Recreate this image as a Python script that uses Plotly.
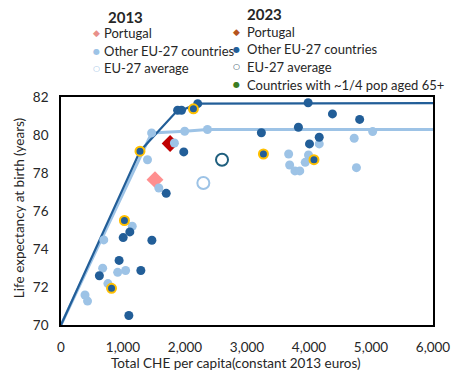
import plotly.graph_objects as go

# --- Data -------------------------------------------------------------------
# 2013: other EU-27 countries (CHE per capita, life expectancy)
other13_x = [1395, 1829, 1578, 1149, 690, 672, 914, 1042, 757, 387, 428,
             4165, 4729, 5027, 3672, 3992, 3939, 3688, 3773, 3851, 4765,
             1462, 1995, 2362]
other13_y = [78.70, 79.58, 77.21, 75.20, 74.48, 72.99, 72.77, 72.87, 72.18, 71.58, 71.26,
             79.53, 79.83, 80.18, 79.00, 78.95, 78.56, 78.42, 78.11, 78.11, 78.28,
             80.11, 80.20, 80.29]

# 2023: other EU-27 countries
other23_x = [1980, 1697, 1110, 1003, 1466, 937, 619, 1288, 1094, 3232, 3829,
             4165, 4008, 4378, 4817, 3986, 1881, 1944, 2205]
other23_y = [79.11, 76.93, 74.90, 74.60, 74.46, 73.40, 72.59, 72.87, 70.50, 80.12, 80.41,
             79.88, 79.53, 81.11, 80.82, 81.70, 81.30, 81.30, 81.65]

# 2023: countries with roughly a quarter of the population aged 65+
aged23_x = [1274, 2136, 1023, 815, 3265, 4080]
aged23_y = [79.15, 81.38, 75.50, 71.93, 79.00, 78.70]

# Efficiency frontiers
frontier13_x = [0, 1462, 1995, 2362, 6000]
frontier13_y = [70, 80.11, 80.20, 80.29, 80.29]
frontier23_x = [0, 1274, 1881, 1944, 2205, 3986, 6000]
frontier23_y = [70, 79.15, 81.30, 81.30, 81.65, 81.68, 81.68]

# Portugal and EU-27 average
portugal_x = [1516, 1760]      # 2013, 2023
portugal_y = [77.65, 79.55]
eu_avg_x = [2296, 2597]        # 2013, 2023
eu_avg_y = [77.47, 78.70]

x_ticks = [0, 1000, 2000, 3000, 4000, 5000, 6000]
y_ticks = [70, 72, 74, 76, 78, 80, 82]

# --- Styles -----------------------------------------------------------------
LIGHT = "#9DC3E6"
DARK = "#225E98"
FONT = "Lato"
TXT = "#262626"

W, H = 462, 371
L, R, T, B = 61, 19, 97, 46
PW, PH = W - L - R, H - T - B


def px(xp):
    return (xp - L) / PW


def py(yp):
    return (H - B - yp) / PH


fig = go.Figure()

fig.add_trace(go.Scatter(x=frontier13_x, y=frontier13_y, mode="lines",
                         line=dict(color=LIGHT, width=3), hoverinfo="skip"))
fig.add_trace(go.Scatter(x=frontier23_x, y=frontier23_y, mode="lines",
                         line=dict(color=DARK, width=2.2), hoverinfo="skip"))

fig.add_trace(go.Scatter(x=portugal_x[:1], y=portugal_y[:1], mode="markers",
                         marker=dict(symbol="diamond", size=13, color="#FF8F8F")))
fig.add_trace(go.Scatter(x=portugal_x[1:], y=portugal_y[1:], mode="markers",
                         marker=dict(symbol="diamond", size=13, color="#C00000")))

fig.add_trace(go.Scatter(x=eu_avg_x[:1], y=eu_avg_y[:1], mode="markers",
                         marker=dict(symbol="circle-open", size=12, color=LIGHT,
                                     line=dict(width=2, color=LIGHT))))
fig.add_trace(go.Scatter(x=eu_avg_x[1:], y=eu_avg_y[1:], mode="markers",
                         marker=dict(symbol="circle-open", size=12, color="#1F5F7E",
                                     line=dict(width=2, color="#1F5F7E"))))

fig.add_trace(go.Scatter(x=other13_x, y=other13_y, mode="markers",
                         marker=dict(size=9, color=LIGHT)))
fig.add_trace(go.Scatter(x=other23_x, y=other23_y, mode="markers",
                         marker=dict(size=9, color=DARK)))
fig.add_trace(go.Scatter(x=aged23_x, y=aged23_y, mode="markers",
                         marker=dict(size=9, color=DARK,
                                     line=dict(width=2, color="#FFC000"))))

# --- Legend built from text annotations ------------------------------------
ann = []


def glyph(xp, yp, ch, color, size=9):
    ann.append(dict(x=px(xp), y=py(yp), xref="paper", yref="paper", text=ch,
                    showarrow=False, xanchor="center", yanchor="middle",
                    font=dict(family="DejaVu Sans", size=size, color=color)))


def label(xp, yp, text, size=13, bold=False):
    ann.append(dict(x=px(xp), y=py(yp), xref="paper", yref="paper",
                    text=f"<b>{text}</b>" if bold else text,
                    showarrow=False, xanchor="left", yanchor="middle",
                    font=dict(family=FONT, size=size, color=TXT)))


label(107, 17, "2013", size=15, bold=True)
glyph(97.5, 33.3, "◆", "#E8908A")
label(103, 33.3, "Portugal")
glyph(97.5, 51, "●", LIGHT, size=8)
label(103, 51, "Other EU-27 countries")
glyph(97.5, 68.3, "○", LIGHT, size=8)
label(103, 68.3, "EU-27 average")

label(250, 14.5, "2023", size=15, bold=True)
glyph(241.5, 32.3, "◆", "#B5541E")
label(249.5, 32.3, "Portugal")
glyph(241.5, 49.4, "●", DARK, size=8)
label(249.5, 49.4, "Other EU-27 countries")
glyph(241.5, 66.7, "○", "#2A4A5C", size=8)
label(249.5, 66.7, "EU-27 average")
glyph(241.5, 84.5, "●", "#3B7D23", size=8)
label(249.5, 84.5, "Countries with ~1/4 pop aged 65+")

# Axis titles
ann.append(dict(x=px(241), y=py(362.5), xref="paper", yref="paper",
                text="Total CHE per capita(constant 2013 euros)", showarrow=False,
                xanchor="center", yanchor="middle",
                font=dict(family=FONT, size=13.5, color=TXT)))
ann.append(dict(x=px(18), y=py(208), xref="paper", yref="paper",
                text="Life expectancy at birth (years)", showarrow=False,
                textangle=-90, xanchor="center", yanchor="middle",
                font=dict(family=FONT, size=13.5, color=TXT)))

fig.update_layout(
    width=W, height=H,
    margin=dict(l=L, r=R, t=T, b=B, pad=0),
    paper_bgcolor="white", plot_bgcolor="white",
    showlegend=False,
    annotations=ann,
    font=dict(family=FONT, size=13.5, color=TXT),
    xaxis=dict(range=[0, 6000], tickvals=x_ticks, tickformat=",",
               showgrid=False, zeroline=False, showline=True, mirror=True,
               linecolor="#000000", linewidth=1.6, ticks="",
               ticklabelstandoff=9, tickfont=dict(size=13.5)),
    yaxis=dict(range=[70, 82], tickvals=y_ticks,
               showgrid=False, zeroline=False, showline=True, mirror=True,
               linecolor="#000000", linewidth=1.6, ticks="",
               ticklabelstandoff=8, tickfont=dict(size=13.5)),
)

fig.write_html("out.html")
